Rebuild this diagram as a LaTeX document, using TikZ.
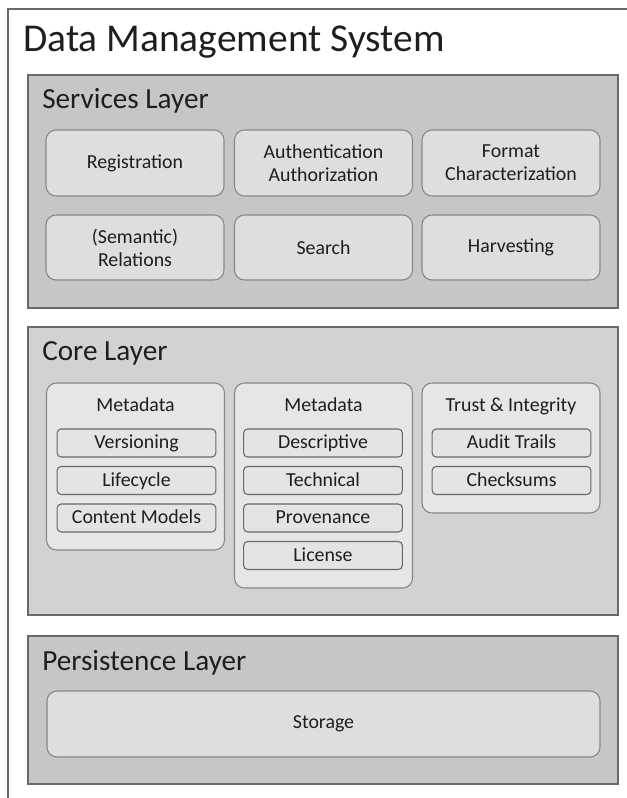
\documentclass[tikz,border=0pt]{standalone}
\usepackage{fontspec}
\setmainfont{Carlito}
\definecolor{lyrfill}{RGB}{198,198,198}
\definecolor{corefill}{RGB}{210,210,210}
\definecolor{boxfill}{RGB}{222,222,222}
\definecolor{grpfill}{RGB}{230,230,230}
\definecolor{itemfill}{RGB}{228,228,228}
\definecolor{edgegray}{RGB}{105,105,105}
\definecolor{txtgray}{RGB}{30,30,30}
\begin{document}
\begin{tikzpicture}[x=0.75pt,y=0.75pt,yscale=-1,xscale=1,
  layerbox/.style={draw=edgegray,line width=1.1pt,fill=lyrfill,minimum width=442.5pt,inner sep=0pt},
  layertxt/.style={anchor=base west,inner sep=0pt,text=txtgray,font=\fontsize{21.9}{24}\selectfont},
  svcbox/.style={draw=edgegray!80,line width=0.8pt,fill=boxfill,rounded corners=7.5pt,minimum width=133.5pt,align=center,text=txtgray,font=\fontsize{14.9}{17.5}\selectfont},
  grpbox/.style={draw=edgegray!80,line width=0.8pt,fill=grpfill,rounded corners=7.5pt,minimum width=133.5pt,inner sep=0pt},
  grptxt/.style={inner sep=0pt,text height=10.7pt,text depth=1.8pt,text=txtgray,font=\fontsize{14.9}{17.5}\selectfont},
  itembox/.style={draw=edgegray,line width=0.8pt,fill=itemfill,rounded corners=3pt,minimum width=119pt,minimum height=21pt,inner sep=0pt,text height=10.7pt,text depth=1.8pt,text=txtgray,font=\fontsize{14.9}{17.5}\selectfont}
]
\useasboundingbox (0,0) rectangle (626,798);

%Outer frame
\draw [color=edgegray,line width=1pt] (8,800) -- (8,9) -- (628,9) ;
% Text Node
\node [anchor=base west,inner sep=0pt,text=txtgray,font=\fontsize{29.6}{34}\selectfont] (title) at (23,52) {Data Management System};

%Services Layer
\node [layerbox,minimum height=174.75pt] (svclayer) at (323,191.5) {};
\node [layertxt] (svctxt) at (42,109) {Services Layer};
\node [svcbox,minimum height=49.5pt] (reg) at (135,163) {Registration};
\node [svcbox,minimum height=49.5pt] (auth) at (323.5,163) {Authentication\\Authorization};
\node [svcbox,minimum height=49.5pt] (fmt) at (511,163) {Format\\Characterization};
\node [svcbox,minimum height=48.75pt] (rel) at (135,247.5) {(Semantic)\\Relations};
\node [svcbox,minimum height=48.75pt] (search) at (323.5,247.5) {Search};
\node [svcbox,minimum height=48.75pt] (harv) at (511,247.5) {Harvesting};

%Core Layer
\node [layerbox,fill=corefill,minimum height=216pt] (corelayer) at (323,471) {};
\node [layertxt] (coretxt) at (42,360) {Core Layer};
\node [grpbox,minimum height=125.25pt] (grpa) at (135.5,466.5) {};
\node [grpbox,minimum height=153.75pt] (grpb) at (323.5,485.5) {};
\node [grpbox,minimum height=97.5pt] (grpc) at (511,448) {};
% Text Node
\node [grptxt] (grpatxt) at (135.5,406) {Metadata};
\node [grptxt] (grpbtxt) at (323.5,406) {Metadata};
\node [grptxt] (grpctxt) at (511,406) {Trust \& Integrity};
\node [itembox] (vers) at (136.5,443) {Versioning};
\node [itembox] (life) at (136.5,480.5) {Lifecycle};
\node [itembox] (cmod) at (136.5,518) {Content Models};
\node [itembox] (desc) at (323,443) {Descriptive};
\node [itembox] (tech) at (323,480.5) {Technical};
\node [itembox] (prov) at (323,518) {Provenance};
\node [itembox] (lic) at (323,555.5) {License};
\node [itembox] (audit) at (511.5,443) {Audit Trails};
\node [itembox] (chk) at (511.5,480.5) {Checksums};

%Persistence Layer
\node [layerbox,minimum height=111pt] (perslayer) at (323,710) {};
\node [layertxt] (perstxt) at (42,670) {Persistence Layer};
\node [svcbox,minimum width=414.75pt,minimum height=49.5pt] (store) at (323.5,724) {Storage};

\end{tikzpicture}
\end{document}
